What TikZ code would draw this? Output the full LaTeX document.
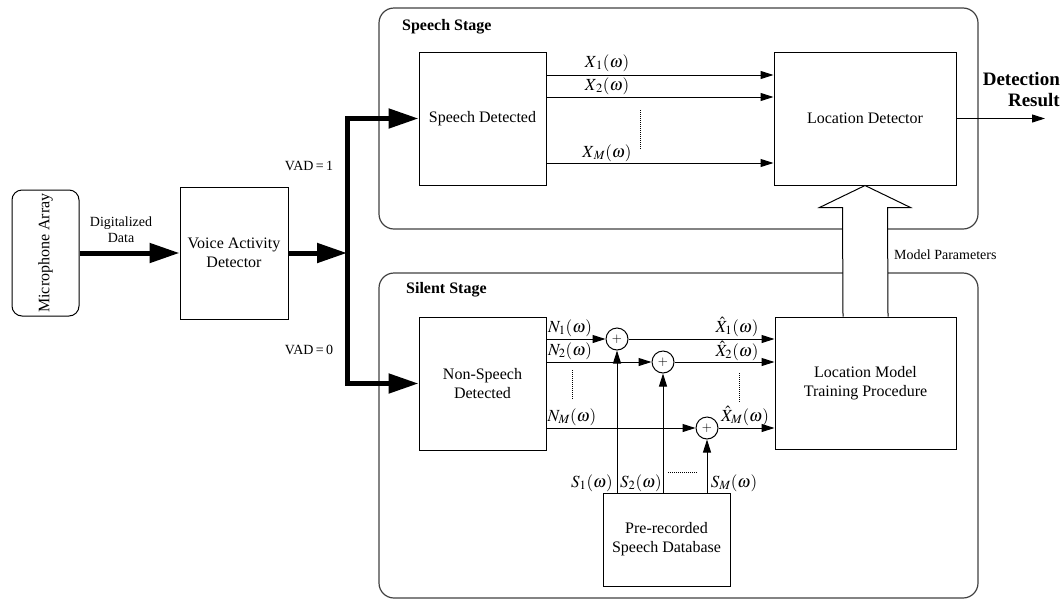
\documentclass[tikz,border=0pt]{standalone}
\usepackage{mathptmx}
\usepackage{fontspec}
\setmainfont{Liberation Serif}
\usetikzlibrary{arrows.meta, positioning}
\tikzset{
  blockbox/.style={draw, line width=1pt, fill=white, align=center,
                   inner sep=2pt, font=\fontsize{16}{19}\selectfont},
  stagebox/.style={draw=black!75, line width=1.2pt, rounded corners=15pt},
  stagelabel/.style={anchor=west, inner sep=0pt,
                     font=\bfseries\fontsize{16}{19}\selectfont},
  sumnode/.style={circle, draw, line width=1pt, fill=white, inner sep=0pt,
                  minimum size=22pt, font=\fontsize{13}{13}\selectfont},
  sig/.style={line width=1pt, -{Triangle[length=13pt,width=8pt]}},
  bigarrow/.style={line width=5pt, -{Triangle[length=30pt,width=19pt]}},
  busline/.style={line width=5pt, line cap=rect},
  dotline/.style={line width=1pt, dash pattern=on 1pt off 1pt},
  mathlbl/.style={inner sep=0pt, font=\fontsize{17}{19}\selectfont},
  smalltxt/.style={inner sep=0pt, align=center, font=\fontsize{14}{16}\selectfont},
  hollowarrow/.style={draw, line width=1pt, fill=white, line join=miter},
}

\begin{document}
\begin{tikzpicture}[x=1pt,y=-1pt]
    \useasboundingbox (0,0) rectangle (1064,600);
    %% stages
    \node[stagebox, minimum width=599pt, minimum height=221pt] (speechstage) at (678.5,118.5) {};
    \node[stagebox, minimum width=599pt, minimum height=325pt] (silentstage) at (678.5,435.5) {};
    \node[stagelabel] (speechlbl) at (402,27) {Speech Stage};
    \node[stagelabel] (silentlbl) at (406,290) {Silent Stage};
    %% blocks
    \node[blockbox, rounded corners=10pt, rotate=90, minimum width=126pt,
          minimum height=67pt] (mic) at (45.5,253) {Microphone Array};
    \node[blockbox, minimum width=108pt, minimum height=132pt] (vad) at (234,253) {Voice Activity\\Detector};
    \node[blockbox, minimum width=127pt, minimum height=133pt] (speech) at (482.5,118.5) {Speech Detected};
    \node[blockbox, minimum width=182pt, minimum height=133pt] (locdet) at (865,118.5) {Location Detector};
    \node[blockbox, minimum width=127pt, minimum height=133pt] (nonspeech) at (482.5,383.5) {Non-Speech\\Detected};
    \node[blockbox, minimum width=181pt, minimum height=132pt] (locmodel) at (865.5,383) {Location Model\\Training Procedure};
    \node[blockbox, minimum width=127pt, minimum height=93pt] (db) at (666.5,539.5) {Pre-recorded\\Speech Database};
    %% adders
    \node[sumnode] (sum1) at (617,339) {$+$};
    \node[sumnode] (sum2) at (663,362) {$+$};
    \node[sumnode] (sumM) at (707,428) {$+$};
    %% VAD and bus
    \coordinate (bus) at (347,253);
    \draw[bigarrow] (mic) -- (vad);
    \draw[bigarrow] (vad) -- (bus);
    \draw[busline] (bus |- speech.west) -- (bus |- nonspeech.west);
    \draw[bigarrow] (bus |- speech.west) -- (speech.west);
    \draw[bigarrow] (bus |- nonspeech.west) -- (nonspeech.west);
    \node[smalltxt] (digi) at (121,230) {Digitalized\\Data};
    \node[smalltxt] (vadone) at (309,166) {VAD\,=\,1};
    \node[smalltxt] (vadzero) at (309,350) {VAD\,=\,0};
    %% speech stage channels
    \foreach \y in {75,97,163}{
      \draw[sig] (speech.east |- 0,\y) -- (locdet.west |- 0,\y);
    }
    \node[mathlbl] (lx1) at (607,63) {$X_{\,1}(\omega)$};
    \node[mathlbl] (lx2) at (607,86) {$X_{\,2}(\omega)$};
    \node[mathlbl] (lxm) at (607,153) {$X_{\,M}(\omega)$};
    \draw[dotline] (640,110) -- (640,150);
    %% output
    \coordinate (out) at (1045,118.5);
    \draw[sig] (locdet.east) -- (out);
    \node[anchor=east, align=right, inner sep=0pt,
          font=\bfseries\fontsize{19}{21}\selectfont] (result) at (1060,90) {Detection\\Result};
    %% silent stage channels
    \draw[sig] (nonspeech.east |- sum1) -- (sum1);
    \draw[sig] (nonspeech.east |- sum2) -- (sum2);
    \draw[sig] (nonspeech.east |- sumM) -- (sumM);
    \foreach \s in {sum1,sum2,sumM}{
      \draw[sig] (\s) -- (\s -| locmodel.west);
      \draw[sig] (db.north -| \s) -- (\s);
    }
    \node[mathlbl] (ln1) at (570,328) {$N_1(\omega)$};
    \node[mathlbl] (ln2) at (570,351) {$N_2(\omega)$};
    \node[mathlbl] (lnm) at (572,417) {$N_M(\omega)$};
    \node[mathlbl] (lh1) at (737,327) {$\hat{X}_1(\omega)$};
    \node[mathlbl] (lh2) at (737,351) {$\hat{X}_2(\omega)$};
    \node[mathlbl] (lhm) at (745,416) {$\hat{X}_M(\omega)$};
    \node[mathlbl] (ls1) at (592,483) {$S_1(\omega)$};
    \node[mathlbl] (ls2) at (641,483) {$S_2(\omega)$};
    \node[mathlbl] (lsm) at (734,483) {$S_M(\omega)$};
    \draw[dotline] (572,370) -- (572,400);
    \draw[dotline] (739,373) -- (739,402);
    \draw[dotline] (668,472) -- (698,472);
    %% model parameters
    \path (locdet.south) ++(0,22) coordinate (hb);
    \draw[hollowarrow] ([xshift=-22.5pt]locmodel.north) -- ([xshift=-22.5pt]hb)
      -- ([xshift=-45.5pt]hb) -- (locdet.south) -- ([xshift=45.5pt]hb)
      -- ([xshift=22.5pt]hb) -- ([xshift=22.5pt]locmodel.north);
    \node[smalltxt, anchor=west] (mparams) at (894,255) {Model Parameters};
\end{tikzpicture}
\end{document}
